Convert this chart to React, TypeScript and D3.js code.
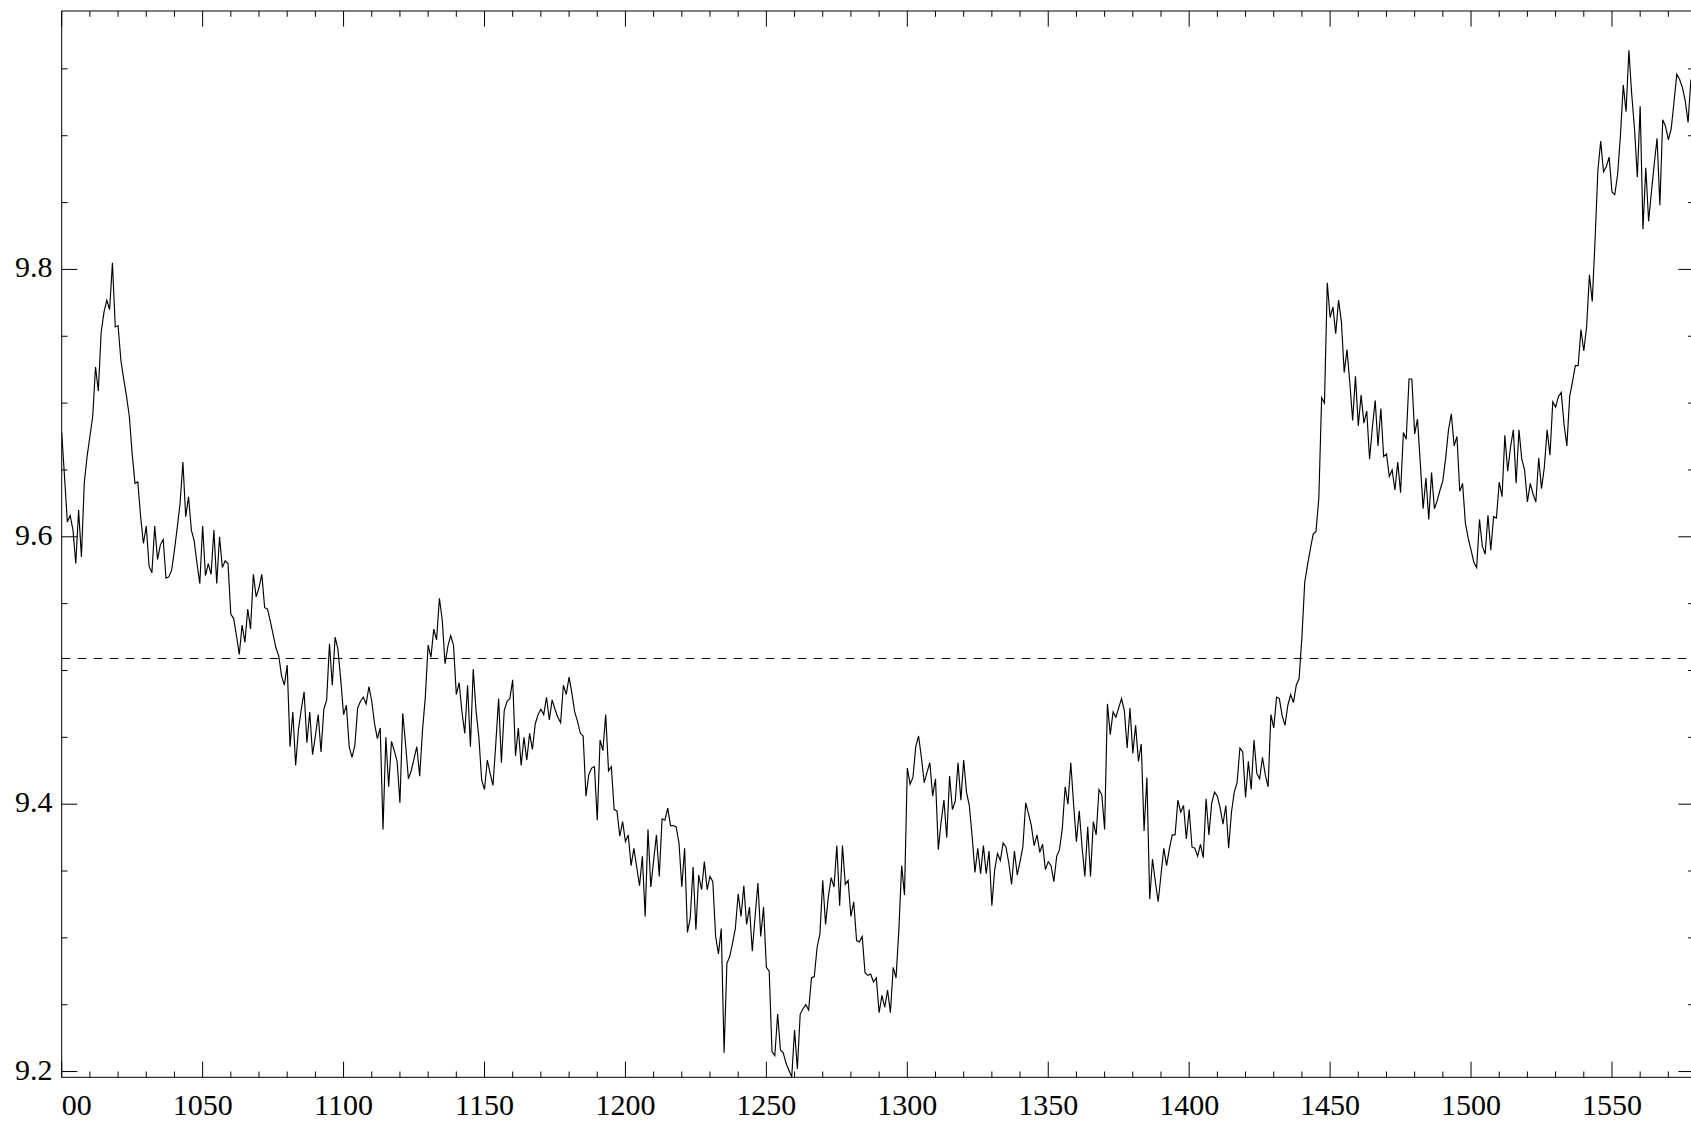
import React from 'react';
import * as d3 from 'd3';

// ---- data (one value per x unit, starting at X_START) ----
const X_START = 1000;
const seg1000 = [9.678, 9.645, 9.611, 9.616, 9.605, 9.580, 9.620, 9.585, 9.640, 9.660,
  9.675, 9.690, 9.727, 9.709, 9.753, 9.768, 9.777, 9.770, 9.805, 9.757,
  9.758, 9.732, 9.718, 9.705, 9.690, 9.662, 9.640, 9.641, 9.615, 9.595,
  9.608, 9.578, 9.573, 9.608, 9.583, 9.594, 9.598, 9.569, 9.570, 9.575,
  9.590, 9.607, 9.625, 9.656, 9.615, 9.630, 9.605, 9.597, 9.580, 9.565];
const seg1050 = [9.608, 9.571, 9.580, 9.572, 9.605, 9.565, 9.600, 9.577, 9.582, 9.580,
  9.542, 9.539, 9.526, 9.512, 9.534, 9.521, 9.546, 9.531, 9.572, 9.555,
  9.562, 9.572, 9.547, 9.546, 9.537, 9.527, 9.517, 9.511, 9.496, 9.489,
  9.504, 9.443, 9.469, 9.429, 9.456, 9.471, 9.484, 9.446, 9.469, 9.437,
  9.451, 9.467, 9.439, 9.471, 9.478, 9.520, 9.489, 9.525, 9.516, 9.493];
const seg1100 = [9.467, 9.474, 9.443, 9.435, 9.444, 9.472, 9.477, 9.480, 9.475, 9.488,
  9.477, 9.460, 9.449, 9.457, 9.381, 9.450, 9.413, 9.447, 9.440, 9.432,
  9.401, 9.468, 9.445, 9.419, 9.425, 9.434, 9.443, 9.421, 9.455, 9.480,
  9.519, 9.510, 9.531, 9.523, 9.554, 9.538, 9.505, 9.518, 9.526, 9.519,
  9.482, 9.491, 9.469, 9.453, 9.489, 9.443, 9.501, 9.470, 9.450, 9.418];
const seg1150 = [9.411, 9.433, 9.423, 9.414, 9.445, 9.479, 9.431, 9.470, 9.477, 9.479,
  9.493, 9.436, 9.457, 9.429, 9.450, 9.433, 9.453, 9.441, 9.460, 9.467,
  9.471, 9.467, 9.480, 9.463, 9.478, 9.471, 9.465, 9.461, 9.489, 9.482,
  9.495, 9.483, 9.469, 9.462, 9.453, 9.451, 9.406, 9.422, 9.427, 9.428,
  9.388, 9.448, 9.440, 9.467, 9.425, 9.428, 9.396, 9.395, 9.376, 9.387];
const seg1200 = [9.372, 9.377, 9.354, 9.367, 9.353, 9.339, 9.361, 9.316, 9.381, 9.338,
  9.358, 9.377, 9.346, 9.389, 9.388, 9.397, 9.384, 9.384, 9.383, 9.371,
  9.338, 9.367, 9.304, 9.315, 9.353, 9.306, 9.347, 9.336, 9.357, 9.336,
  9.346, 9.342, 9.301, 9.288, 9.307, 9.214, 9.281, 9.286, 9.296, 9.307,
  9.333, 9.316, 9.339, 9.310, 9.323, 9.290, 9.316, 9.341, 9.301, 9.323];
const seg1250 = [9.278, 9.275, 9.215, 9.212, 9.243, 9.216, 9.214, 9.206, 9.201, 9.196,
  9.231, 9.202, 9.243, 9.247, 9.250, 9.246, 9.270, 9.271, 9.293, 9.303,
  9.343, 9.310, 9.331, 9.345, 9.338, 9.369, 9.324, 9.369, 9.340, 9.343,
  9.316, 9.327, 9.298, 9.297, 9.301, 9.274, 9.272, 9.273, 9.267, 9.270,
  9.244, 9.257, 9.248, 9.261, 9.244, 9.278, 9.270, 9.306, 9.354, 9.332];
const seg1300 = [9.427, 9.415, 9.420, 9.443, 9.451, 9.435, 9.416, 9.424, 9.431, 9.406,
  9.419, 9.366, 9.387, 9.403, 9.375, 9.421, 9.396, 9.402, 9.431, 9.403,
  9.433, 9.409, 9.399, 9.376, 9.349, 9.367, 9.348, 9.369, 9.348, 9.365,
  9.324, 9.351, 9.363, 9.358, 9.371, 9.368, 9.356, 9.340, 9.365, 9.347,
  9.357, 9.368, 9.401, 9.393, 9.384, 9.369, 9.377, 9.364, 9.370, 9.351];
const seg1350 = [9.357, 9.354, 9.342, 9.361, 9.366, 9.382, 9.413, 9.400, 9.431, 9.400,
  9.372, 9.395, 9.368, 9.346, 9.383, 9.346, 9.387, 9.377, 9.411, 9.407,
  9.381, 9.475, 9.452, 9.469, 9.465, 9.472, 9.479, 9.470, 9.442, 9.472,
  9.438, 9.459, 9.432, 9.445, 9.380, 9.420, 9.329, 9.359, 9.342, 9.327,
  9.347, 9.367, 9.354, 9.367, 9.377, 9.377, 9.403, 9.394, 9.399, 9.374];
const seg1400 = [9.396, 9.368, 9.367, 9.361, 9.370, 9.360, 9.404, 9.377, 9.401, 9.409,
  9.406, 9.397, 9.385, 9.399, 9.367, 9.394, 9.409, 9.416, 9.442, 9.439,
  9.405, 9.432, 9.411, 9.448, 9.423, 9.419, 9.435, 9.422, 9.413, 9.467,
  9.457, 9.480, 9.479, 9.466, 9.459, 9.474, 9.482, 9.476, 9.489, 9.494,
  9.525, 9.566, 9.579, 9.591, 9.602, 9.604, 9.629, 9.704, 9.700, 9.790];
const seg1450 = [9.764, 9.772, 9.752, 9.777, 9.761, 9.723, 9.740, 9.715, 9.687, 9.720,
  9.683, 9.706, 9.685, 9.694, 9.658, 9.682, 9.702, 9.668, 9.696, 9.660,
  9.662, 9.645, 9.650, 9.635, 9.656, 9.633, 9.678, 9.673, 9.718, 9.718,
  9.677, 9.688, 9.655, 9.621, 9.644, 9.613, 9.648, 9.621, 9.627, 9.635,
  9.642, 9.659, 9.680, 9.692, 9.668, 9.675, 9.634, 9.640, 9.610, 9.599];
const seg1500 = [9.590, 9.581, 9.577, 9.613, 9.593, 9.587, 9.616, 9.590, 9.615, 9.614,
  9.641, 9.630, 9.676, 9.649, 9.667, 9.680, 9.640, 9.680, 9.658, 9.650,
  9.626, 9.640, 9.632, 9.626, 9.659, 9.636, 9.652, 9.680, 9.661, 9.701,
  9.697, 9.705, 9.708, 9.684, 9.668, 9.705, 9.716, 9.728, 9.728, 9.755,
  9.739, 9.757, 9.796, 9.776, 9.822, 9.874, 9.896, 9.873, 9.877, 9.884];
const seg1550 = [9.858, 9.856, 9.871, 9.900, 9.938, 9.918, 9.964, 9.931, 9.905, 9.869,
  9.922, 9.830, 9.876, 9.836, 9.858, 9.879, 9.898, 9.848, 9.912, 9.907,
  9.897, 9.905, 9.925, 9.946, 9.942, 9.936, 9.926, 9.910, 9.942];

const values = [...seg1000, ...seg1050, ...seg1100, ...seg1150, ...seg1200, ...seg1250,
  ...seg1300, ...seg1350, ...seg1400, ...seg1450, ...seg1500, ...seg1550];

const xTickValues = [1000, 1050, 1100, 1150, 1200, 1250, 1300, 1350, 1400, 1450, 1500, 1550];
const xTickLabels = ['1000', '1050', '1100', '1150', '1200', '1250', '1300', '1350', '1400', '1450', '1500', '1550'];
const yTickValues = [9.2, 9.4, 9.6, 9.8];
const yTickLabels = ['9.2', '9.4', '9.6', '9.8'];
const REFERENCE_LEVEL = 9.509;

// ---- layout ----
const W = 1691;
const H = 1121;
const LEFT = 61.7;
const RIGHT = 1694;
const TOP = 11;
const BOTTOM = 1077.3;
const X_DOMAIN: [number, number] = [1000, 1579.1];
const Y_DOMAIN: [number, number] = [9.1957, 9.9933];
const MAJOR = 15.6;
const MINOR = 5.8;
const FONT = '"Liberation Serif", "Times New Roman", serif';

export default function App() {
  const x = d3.scaleLinear().domain(X_DOMAIN).range([LEFT, RIGHT]);
  const y = d3.scaleLinear().domain(Y_DOMAIN).range([BOTTOM, TOP]);
  const pts: [number, number][] = values.map((v, i) => [X_START + i, v]);
  const lineGen = d3.line<[number, number]>().x(d => x(d[0])).y(d => y(d[1]));
  const path = lineGen(pts) || '';

  const xMinor = d3.range(1000, 1580, 10).filter(t => t % 50 !== 0);
  const yMinor = d3.range(0, 16).map(i => Math.round((9.2 + i * 0.05) * 1000) / 1000)
    .filter(v => Math.round(v * 100) % 20 !== 0 && v <= Y_DOMAIN[1]);

  return (
    <svg width={W} height={H} viewBox={`0 0 ${W} ${H}`}
      style={{ position: 'absolute', left: 0, top: 0, display: 'block', background: '#fff' }}>
      <defs>
        <clipPath id="plotClip">
          <rect x={LEFT} y={TOP} width={RIGHT - LEFT} height={BOTTOM - TOP} />
        </clipPath>
        <clipPath id="labelClip">
          <rect x={LEFT} y={BOTTOM} width={W} height={H - BOTTOM} />
        </clipPath>
      </defs>
      <rect x={0} y={0} width={W} height={H} fill="#fff" />

      {/* reference dashed line */}
      <line x1={LEFT} x2={RIGHT} y1={y(REFERENCE_LEVEL)} y2={y(REFERENCE_LEVEL)}
        stroke="#000" strokeWidth={1} strokeDasharray="8.7,7.3" />

      {/* data line */}
      <g clipPath="url(#plotClip)">
        <path d={path} fill="none" stroke="#000" strokeWidth={1.15} strokeLinejoin="miter" />
      </g>

      {/* frame */}
      <rect x={LEFT} y={TOP} width={RIGHT - LEFT} height={BOTTOM - TOP} fill="none" stroke="#000" strokeWidth={1} />

      {/* x ticks */}
      {xTickValues.map(t => (
        <g key={'xt' + t}>
          <line x1={x(t)} x2={x(t)} y1={BOTTOM} y2={BOTTOM - MAJOR} stroke="#000" strokeWidth={1} />
          <line x1={x(t)} x2={x(t)} y1={TOP} y2={TOP + MAJOR} stroke="#000" strokeWidth={1} />
        </g>
      ))}
      {xMinor.map(t => (
        <g key={'xm' + t}>
          <line x1={x(t)} x2={x(t)} y1={BOTTOM} y2={BOTTOM - MINOR} stroke="#000" strokeWidth={1} />
          <line x1={x(t)} x2={x(t)} y1={TOP} y2={TOP + MINOR} stroke="#000" strokeWidth={1} />
        </g>
      ))}

      {/* y ticks */}
      {yTickValues.map(t => (
        <g key={'yt' + t}>
          <line x1={LEFT} x2={LEFT + MAJOR} y1={y(t)} y2={y(t)} stroke="#000" strokeWidth={1} />
          <line x1={RIGHT} x2={RIGHT - MAJOR} y1={y(t)} y2={y(t)} stroke="#000" strokeWidth={1} />
        </g>
      ))}
      {yMinor.map(t => (
        <g key={'ym' + t}>
          <line x1={LEFT} x2={LEFT + MINOR} y1={y(t)} y2={y(t)} stroke="#000" strokeWidth={1} />
          <line x1={RIGHT} x2={RIGHT - MINOR} y1={y(t)} y2={y(t)} stroke="#000" strokeWidth={1} />
        </g>
      ))}

      {/* x labels */}
      <g clipPath="url(#labelClip)">
        {xTickValues.map((t, i) => (
          <text key={'xl' + t} x={x(t)} y={1115} textAnchor="middle"
            fontFamily={FONT} fontSize={30} fill="#000">{xTickLabels[i]}</text>
        ))}
      </g>

      {/* y labels */}
      {yTickValues.map((t, i) => (
        <text key={'yl' + t} x={52.5} y={y(t) + 8} textAnchor="end"
          fontFamily={FONT} fontSize={30} fill="#000">{yTickLabels[i]}</text>
      ))}
    </svg>
  );
}
